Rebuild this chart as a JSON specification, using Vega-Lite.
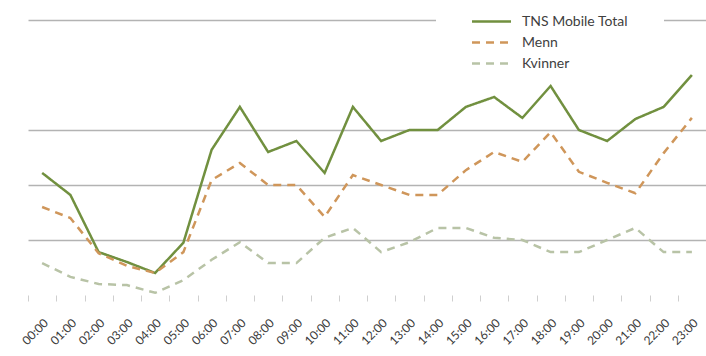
{
  "$schema": "https://vega.github.io/schema/vega-lite/v6.json",
  "width": 678,
  "height": 275,
  "autosize": {"type": "none"},
  "padding": {"left": 28, "top": 20, "right": 0, "bottom": 61},
  "config": {"view": {"stroke": null}, "font": "Lato", "background": "white"},
  "data": {"values": [
    {"time": "00:00", "series": "TNS Mobile Total", "value": 2.22},
    {"time": "01:00", "series": "TNS Mobile Total", "value": 1.82},
    {"time": "02:00", "series": "TNS Mobile Total", "value": 0.78},
    {"time": "03:00", "series": "TNS Mobile Total", "value": 0.6},
    {"time": "04:00", "series": "TNS Mobile Total", "value": 0.4},
    {"time": "05:00", "series": "TNS Mobile Total", "value": 0.95},
    {"time": "06:00", "series": "TNS Mobile Total", "value": 2.64},
    {"time": "07:00", "series": "TNS Mobile Total", "value": 3.42},
    {"time": "08:00", "series": "TNS Mobile Total", "value": 2.6},
    {"time": "09:00", "series": "TNS Mobile Total", "value": 2.8},
    {"time": "10:00", "series": "TNS Mobile Total", "value": 2.22},
    {"time": "11:00", "series": "TNS Mobile Total", "value": 3.42},
    {"time": "12:00", "series": "TNS Mobile Total", "value": 2.8},
    {"time": "13:00", "series": "TNS Mobile Total", "value": 3.0},
    {"time": "14:00", "series": "TNS Mobile Total", "value": 3.0},
    {"time": "15:00", "series": "TNS Mobile Total", "value": 3.42},
    {"time": "16:00", "series": "TNS Mobile Total", "value": 3.6},
    {"time": "17:00", "series": "TNS Mobile Total", "value": 3.22},
    {"time": "18:00", "series": "TNS Mobile Total", "value": 3.8},
    {"time": "19:00", "series": "TNS Mobile Total", "value": 3.0},
    {"time": "20:00", "series": "TNS Mobile Total", "value": 2.8},
    {"time": "21:00", "series": "TNS Mobile Total", "value": 3.2},
    {"time": "22:00", "series": "TNS Mobile Total", "value": 3.42},
    {"time": "23:00", "series": "TNS Mobile Total", "value": 4.0},
    {"time": "00:00", "series": "Menn", "value": 1.6},
    {"time": "01:00", "series": "Menn", "value": 1.4},
    {"time": "02:00", "series": "Menn", "value": 0.76},
    {"time": "03:00", "series": "Menn", "value": 0.53},
    {"time": "04:00", "series": "Menn", "value": 0.4},
    {"time": "05:00", "series": "Menn", "value": 0.78},
    {"time": "06:00", "series": "Menn", "value": 2.09},
    {"time": "07:00", "series": "Menn", "value": 2.4},
    {"time": "08:00", "series": "Menn", "value": 2.0},
    {"time": "09:00", "series": "Menn", "value": 2.0},
    {"time": "10:00", "series": "Menn", "value": 1.42},
    {"time": "11:00", "series": "Menn", "value": 2.18},
    {"time": "12:00", "series": "Menn", "value": 2.0},
    {"time": "13:00", "series": "Menn", "value": 1.82},
    {"time": "14:00", "series": "Menn", "value": 1.82},
    {"time": "15:00", "series": "Menn", "value": 2.27},
    {"time": "16:00", "series": "Menn", "value": 2.6},
    {"time": "17:00", "series": "Menn", "value": 2.42},
    {"time": "18:00", "series": "Menn", "value": 2.96},
    {"time": "19:00", "series": "Menn", "value": 2.24},
    {"time": "20:00", "series": "Menn", "value": 2.04},
    {"time": "21:00", "series": "Menn", "value": 1.85},
    {"time": "22:00", "series": "Menn", "value": 2.58},
    {"time": "23:00", "series": "Menn", "value": 3.22},
    {"time": "00:00", "series": "Kvinner", "value": 0.58},
    {"time": "01:00", "series": "Kvinner", "value": 0.33},
    {"time": "02:00", "series": "Kvinner", "value": 0.2},
    {"time": "03:00", "series": "Kvinner", "value": 0.18},
    {"time": "04:00", "series": "Kvinner", "value": 0.04},
    {"time": "05:00", "series": "Kvinner", "value": 0.27},
    {"time": "06:00", "series": "Kvinner", "value": 0.64},
    {"time": "07:00", "series": "Kvinner", "value": 0.96},
    {"time": "08:00", "series": "Kvinner", "value": 0.58},
    {"time": "09:00", "series": "Kvinner", "value": 0.58},
    {"time": "10:00", "series": "Kvinner", "value": 1.04},
    {"time": "11:00", "series": "Kvinner", "value": 1.22},
    {"time": "12:00", "series": "Kvinner", "value": 0.78},
    {"time": "13:00", "series": "Kvinner", "value": 0.96},
    {"time": "14:00", "series": "Kvinner", "value": 1.22},
    {"time": "15:00", "series": "Kvinner", "value": 1.22},
    {"time": "16:00", "series": "Kvinner", "value": 1.04},
    {"time": "17:00", "series": "Kvinner", "value": 1.0},
    {"time": "18:00", "series": "Kvinner", "value": 0.78},
    {"time": "19:00", "series": "Kvinner", "value": 0.78},
    {"time": "20:00", "series": "Kvinner", "value": 1.0},
    {"time": "21:00", "series": "Kvinner", "value": 1.22},
    {"time": "22:00", "series": "Kvinner", "value": 0.78},
    {"time": "23:00", "series": "Kvinner", "value": 0.78}
  ]},
  "mark": {"type": "line", "strokeWidth": 2.5},
  "encoding": {
    "x": {
      "field": "time",
      "type": "ordinal",
      "bandPosition": 0.5,
      "scale": {"type": "band", "paddingInner": 0, "paddingOuter": 0},
      "axis": {
        "title": null,
        "labelAngle": -45,
        "labelFontSize": 12,
        "labelColor": "#3a3a3a",
        "labelPadding": 16,
        "domain": false,
        "grid": false,
        "ticks": true,
        "tickBand": "extent",
        "tickColor": "#cfcfcf",
        "tickSize": 6
      }
    },
    "y": {
      "field": "value",
      "type": "quantitative",
      "scale": {"domain": [0, 5], "nice": false, "zero": true},
      "axis": {
        "title": null,
        "values": [1, 2, 3, 5],
        "labels": false,
        "ticks": false,
        "domain": false,
        "grid": true,
        "gridColor": "#b3b3b3",
        "gridWidth": 1.5
      }
    },
    "color": {
      "field": "series",
      "type": "nominal",
      "sort": ["TNS Mobile Total", "Menn", "Kvinner"],
      "scale": {"domain": ["TNS Mobile Total", "Menn", "Kvinner"], "range": ["#71903f", "#cf965a", "#b8c3a6"]},
      "legend": {
        "orient": "none",
        "legendX": 408,
        "legendY": -18,
        "title": "\u00a0",
        "titleOrient": "right",
        "titlePadding": 30,
        "titleFontSize": 6,
        "symbolType": "M-1.625,0H1.625",
        "symbolSize": 576,
        "symbolStrokeWidth": 2.5,
        "labelFont": "Lato",
        "labelFontSize": 14,
        "labelColor": "#404040",
        "fillColor": "white",
        "padding": 6,
        "symbolOffset": 36,
        "labelOffset": 17,
        "rowPadding": 0
      }
    },
    "strokeDash": {
      "field": "series",
      "type": "nominal",
      "sort": ["TNS Mobile Total", "Menn", "Kvinner"],
      "scale": {"domain": ["TNS Mobile Total", "Menn", "Kvinner"], "range": [[1, 0], [8, 6], [8, 6]]},
      "legend": {
        "orient": "none",
        "legendX": 408,
        "legendY": -18,
        "title": "\u00a0",
        "titleOrient": "right",
        "titlePadding": 30,
        "titleFontSize": 6,
        "symbolType": "M-1.625,0H1.625",
        "symbolSize": 576,
        "symbolStrokeWidth": 2.5,
        "labelFont": "Lato",
        "labelFontSize": 14,
        "labelColor": "#404040",
        "fillColor": "white",
        "padding": 6,
        "symbolOffset": 36,
        "labelOffset": 17,
        "rowPadding": 0
      }
    }
  }
}
